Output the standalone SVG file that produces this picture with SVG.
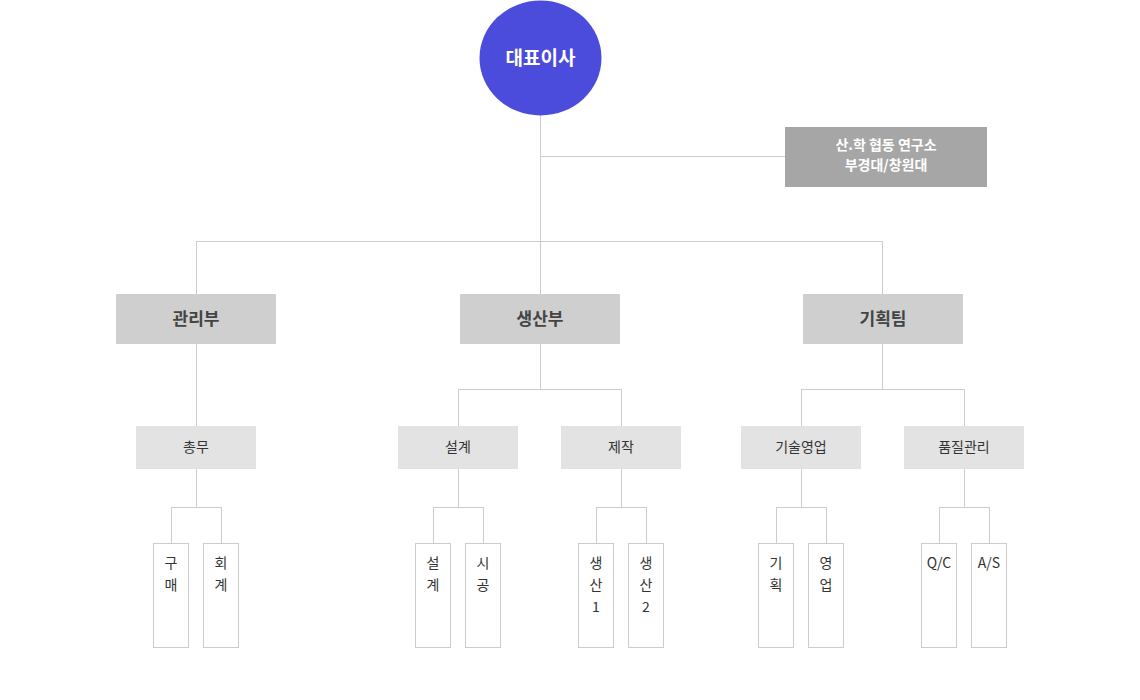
<svg xmlns="http://www.w3.org/2000/svg" width="1140" height="700" viewBox="0 0 1140 700">
<style>
text{font-family:"Noto Sans CJK KR","Noto Sans",sans-serif;text-anchor:middle}
.ln{stroke:#cccccc;stroke-width:1;fill:none}
.l1 rect{fill:#cfcfcf}
.l1 text{font-size:17px;font-weight:bold;fill:#444}
.l2 rect{fill:#e3e3e3}
.l2 text{font-size:14px;fill:#333}
.leaf rect{fill:#fff;stroke:#cccccc;stroke-width:1}
.leaf text{font-size:14px;fill:#333}
</style>
<rect width="1140" height="700" fill="#fff"/>
<g id="connectors" class="ln">
<path d="M540.5 115V241M540.5 156.5H785"/>
<path d="M196.5 241.5H882.5M196.5 241V294M540.5 241V294M882.5 241V294"/>
<path d="M196.5 344V426"/>
<path d="M540.5 344V389.5M458.5 389.5H621.5M458.5 389V426M621.5 389V426"/>
<path d="M882.5 344V389.5M801.5 389.5H964.5M801.5 389V426M964.5 389V426"/>
<path d="M196.5 469V507.5M171.5 507.5H221.5M171.5 507V543M221.5 507V543"/>
<path d="M458.5 469V507.5M433.5 507.5H483.5M433.5 507V543M483.5 507V543"/>
<path d="M621.5 469V507.5M596.5 507.5H646.5M596.5 507V543M646.5 507V543"/>
<path d="M801.5 469V507.5M776.5 507.5H826.5M776.5 507V543M826.5 507V543"/>
<path d="M964.5 469V507.5M939.5 507.5H989.5M939.5 507V543M989.5 507V543"/>
</g>
<g id="ceo">
<ellipse cx="540.5" cy="58" rx="61" ry="57.5" fill="#4b4bdc"/>
<text x="540.5" y="65" font-size="19" font-weight="bold" fill="#fff">대표이사</text>
</g>
<g id="lab">
<rect x="785" y="127" width="202" height="60" fill="#a6a6a6"/>
<text x="886" y="150" font-size="14" font-weight="bold" fill="#fff">산.학 협동 연구소</text>
<text x="886" y="170" font-size="14" font-weight="bold" fill="#fff">부경대/창원대</text>
</g>
<g id="admin" class="l1"><rect x="116" y="294" width="160" height="50"/><text x="196" y="325">관리부</text></g>
<g id="production" class="l1"><rect x="460" y="294" width="160" height="50"/><text x="540" y="325">생산부</text></g>
<g id="planning" class="l1"><rect x="803" y="294" width="160" height="50"/><text x="883" y="325">기획팀</text></g>
<g id="general" class="l2"><rect x="136" y="426" width="120" height="43"/><text x="196" y="452">총무</text></g>
<g id="design" class="l2"><rect x="398" y="426" width="120" height="43"/><text x="458" y="452">설계</text></g>
<g id="make" class="l2"><rect x="561" y="426" width="120" height="43"/><text x="621" y="452">제작</text></g>
<g id="techsales" class="l2"><rect x="741" y="426" width="120" height="43"/><text x="801" y="452">기술영업</text></g>
<g id="quality" class="l2"><rect x="904" y="426" width="120" height="43"/><text x="964" y="452">품질관리</text></g>
<g id="purchase" class="leaf"><rect x="153.5" y="543.5" width="35" height="104"/><text x="171" y="568">구</text><text x="171" y="590">매</text></g>
<g id="account" class="leaf"><rect x="203.5" y="543.5" width="35" height="104"/><text x="221" y="568">회</text><text x="221" y="590">계</text></g>
<g id="design2" class="leaf"><rect x="415.5" y="543.5" width="35" height="104"/><text x="433" y="568">설</text><text x="433" y="590">계</text></g>
<g id="construct" class="leaf"><rect x="465.5" y="543.5" width="35" height="104"/><text x="483" y="568">시</text><text x="483" y="590">공</text></g>
<g id="prod1" class="leaf"><rect x="578.5" y="543.5" width="35" height="104"/><text x="596" y="568">생</text><text x="596" y="590">산</text><text x="596" y="612">1</text></g>
<g id="prod2" class="leaf"><rect x="628.5" y="543.5" width="35" height="104"/><text x="646" y="568">생</text><text x="646" y="590">산</text><text x="646" y="612">2</text></g>
<g id="plan" class="leaf"><rect x="758.5" y="543.5" width="35" height="104"/><text x="776" y="568">기</text><text x="776" y="590">획</text></g>
<g id="sales" class="leaf"><rect x="808.5" y="543.5" width="35" height="104"/><text x="826" y="568">영</text><text x="826" y="590">업</text></g>
<g id="qc" class="leaf"><rect x="921.5" y="543.5" width="35" height="104"/><text x="939" y="568">Q/C</text></g>
<g id="as" class="leaf"><rect x="971.5" y="543.5" width="35" height="104"/><text x="989" y="568">A/S</text></g>
</svg>
